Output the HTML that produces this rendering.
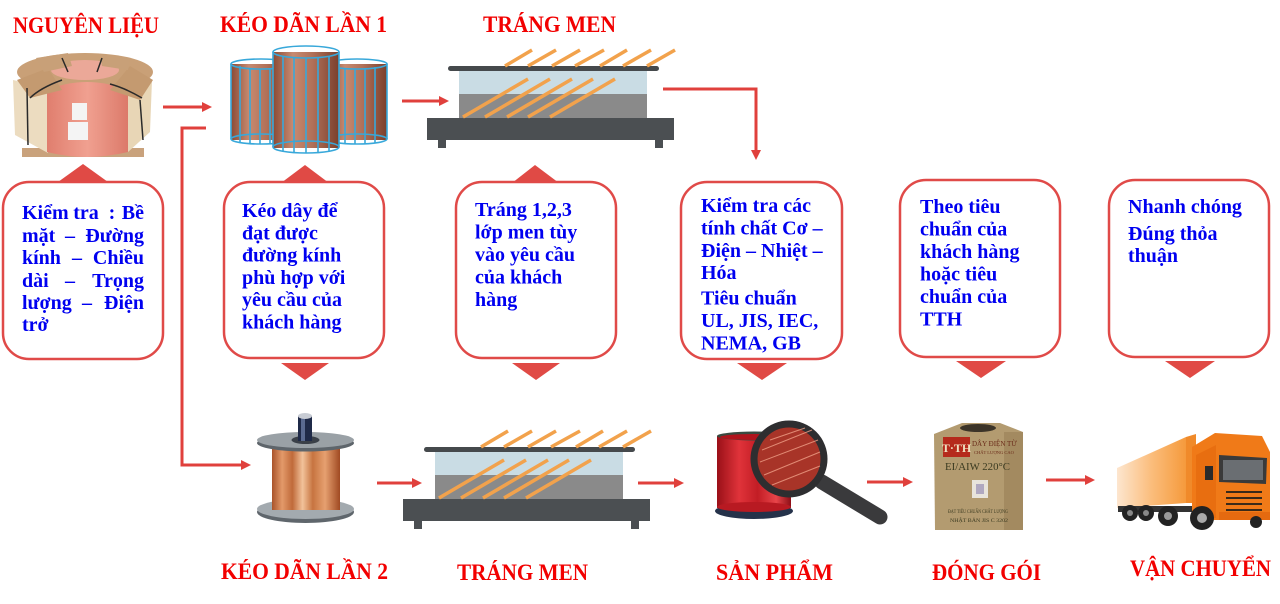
<!DOCTYPE html>
<html>
<head>
<meta charset="utf-8">
<style>
html,body{margin:0;padding:0;background:#fff;}
body{width:1280px;height:604px;overflow:hidden;}
svg{display:block;}
.t{font-family:"Liberation Serif","DejaVu Serif",serif;font-weight:bold;fill:#f20000;font-size:23px;}
.b{font-family:"Liberation Serif","DejaVu Serif",serif;font-weight:bold;fill:#0000f0;font-size:20px;}
</style>
</head>
<body>
<svg width="1280" height="604" viewBox="0 0 1280 604" xmlns="http://www.w3.org/2000/svg">
<defs>
  <linearGradient id="cu" x1="0" x2="1" y1="0" y2="0">
    <stop offset="0" stop-color="#a9532a"/>
    <stop offset="0.15" stop-color="#e39a6a"/>
    <stop offset="0.3" stop-color="#c06a3a"/>
    <stop offset="0.45" stop-color="#f2c29a"/>
    <stop offset="0.6" stop-color="#c77440"/>
    <stop offset="0.78" stop-color="#e6a070"/>
    <stop offset="1" stop-color="#a04a22"/>
  </linearGradient>
  <linearGradient id="cage" x1="0" x2="1" y1="0" y2="0">
    <stop offset="0" stop-color="#8a4a35"/>
    <stop offset="0.3" stop-color="#c78a70"/>
    <stop offset="0.6" stop-color="#b07058"/>
    <stop offset="1" stop-color="#7a3f2c"/>
  </linearGradient>
  <linearGradient id="red" x1="0" x2="1" y1="0" y2="0">
    <stop offset="0" stop-color="#9a1018"/>
    <stop offset="0.3" stop-color="#e0333a"/>
    <stop offset="0.55" stop-color="#c21d25"/>
    <stop offset="0.8" stop-color="#e8454a"/>
    <stop offset="1" stop-color="#8c0e16"/>
  </linearGradient>
  <linearGradient id="trailer" x1="0" x2="1" y1="0" y2="0">
    <stop offset="0" stop-color="#fde6cf"/>
    <stop offset="0.5" stop-color="#fbbd7c"/>
    <stop offset="1" stop-color="#f59a3c"/>
  </linearGradient>
  <linearGradient id="pink" x1="0" x2="1" y1="0" y2="0">
    <stop offset="0" stop-color="#e07e6e"/>
    <stop offset="0.5" stop-color="#f0a090"/>
    <stop offset="1" stop-color="#dc7a6a"/>
  </linearGradient>
</defs>

<!-- ===== TITLES ===== -->
<text class="t" x="13" y="33" textLength="146" lengthAdjust="spacingAndGlyphs">NGUYÊN LIỆU</text>
<text class="t" x="220" y="32" textLength="167" lengthAdjust="spacingAndGlyphs">KÉO DÃN LẦN 1</text>
<text class="t" x="483" y="32" textLength="133" lengthAdjust="spacingAndGlyphs">TRÁNG MEN</text>
<text class="t" x="221" y="579" textLength="167" lengthAdjust="spacingAndGlyphs">KÉO DÃN LẦN 2</text>
<text class="t" x="457" y="580" textLength="131" lengthAdjust="spacingAndGlyphs">TRÁNG MEN</text>
<text class="t" x="716" y="580" textLength="117" lengthAdjust="spacingAndGlyphs">SẢN PHẨM</text>
<text class="t" x="932" y="580" textLength="109" lengthAdjust="spacingAndGlyphs">ĐÓNG GÓI</text>
<text class="t" x="1130" y="576" textLength="141" lengthAdjust="spacingAndGlyphs">VẬN CHUYỂN</text>

<!-- ===== RAW COIL ===== -->
<g>
  <rect x="22" y="148" width="122" height="9" fill="#c9a27c"/>
  <polygon points="13,80 48,88 48,153 15,135" fill="#ecdcc0"/>
  <polygon points="125,88 152,80 150,132 128,152" fill="#e8d6b6"/>
  <ellipse cx="85" cy="72" rx="68" ry="19" fill="#c9a077"/>
  <ellipse cx="85" cy="70" rx="34" ry="10" fill="#eba898"/>
  <path d="M47,90 Q86,74 128,90 L128,152 Q86,162 47,152 Z" fill="url(#pink)"/>
  <polygon points="17,80 48,68 62,90 30,98" fill="#c49a70"/>
  <polygon points="110,90 130,66 153,80 140,100" fill="#c49a70"/>
  <polygon points="36,58 68,53 72,66 44,72" fill="#c8a078"/>
  <polygon points="100,54 130,58 128,70 102,66" fill="#c8a078"/>
  <path d="M27,88 L28,145" stroke="#2a2a2a" stroke-width="1.5" fill="none"/>
  <path d="M30,98 Q40,88 62,80" stroke="#2a2a2a" stroke-width="1.5" fill="none"/>
  <path d="M140,100 L143,140" stroke="#2a2a2a" stroke-width="1.5" fill="none"/>
  <path d="M110,84 Q125,88 142,98" stroke="#2a2a2a" stroke-width="1.5" fill="none"/>
  <path d="M62,58 L68,72 M102,58 L97,72" stroke="#2a2a2a" stroke-width="1.5" fill="none"/>
  <rect x="72" y="103" width="15" height="17" fill="#f4f4f4"/>
  <rect x="68" y="122" width="20" height="18" fill="#f4f4f4"/>
</g>

<!-- ===== CAGES ===== -->
<g stroke="#38a8da" stroke-width="1.6">
  <rect x="231" y="64" width="60" height="76" fill="url(#cage)" stroke="none"/>
  <ellipse cx="261" cy="64" rx="30" ry="5" fill="none"/>
  <ellipse cx="261" cy="139" rx="30" ry="5" fill="none"/>
  <path d="M231,64 V139 M240,66 V143 M250,68 V144 M260,69 V144 M270,68 V144 M280,67 V143 M291,64 V139" fill="none"/>
  <rect x="327" y="64" width="60" height="76" fill="url(#cage)" stroke="none"/>
  <ellipse cx="357" cy="64" rx="30" ry="5" fill="none"/>
  <ellipse cx="357" cy="139" rx="30" ry="5" fill="none"/>
  <path d="M327,64 V139 M345,68 V144 M355,69 V144 M365,69 V144 M375,67 V143 M387,64 V139" fill="none"/>
  <rect x="273" y="52" width="66" height="96" fill="url(#cage)" stroke="none"/>
  <ellipse cx="306" cy="52" rx="33" ry="6" fill="none"/>
  <ellipse cx="306" cy="147" rx="33" ry="6" fill="none"/>
  <path d="M273,52 V147 M283,56 V151 M294,57 V153 M306,58 V153 M318,57 V153 M329,56 V151 M339,52 V147" fill="none"/>
</g>

<!-- ===== MACHINE TOP ===== -->
<g>
  <rect x="459" y="71" width="188" height="23" fill="#c9dce4"/>
  <rect x="459" y="94" width="188" height="24" fill="#8a8a8a"/>
  <rect x="448" y="66" width="211" height="5" rx="2.5" fill="#45494c"/>
  <rect x="427" y="118" width="247" height="22" fill="#4b4f52"/>
  <rect x="438" y="140" width="8" height="8" fill="#4b4f52"/>
  <rect x="655" y="140" width="8" height="8" fill="#4b4f52"/>
  <g stroke="#f2a24c" stroke-width="3.5">
    <line x1="505" y1="66" x2="532" y2="50"/><line x1="528" y1="66" x2="556" y2="50"/>
    <line x1="552" y1="66" x2="580" y2="50"/><line x1="575" y1="66" x2="604" y2="50"/>
    <line x1="600" y1="66" x2="627" y2="50"/><line x1="623" y1="66" x2="651" y2="50"/>
    <line x1="647" y1="66" x2="675" y2="50"/>
    <line x1="463" y1="117" x2="528" y2="79"/><line x1="485" y1="117" x2="550" y2="79"/>
    <line x1="507" y1="117" x2="572" y2="79"/><line x1="528" y1="117" x2="593" y2="79"/>
    <line x1="550" y1="117" x2="615" y2="79"/>
  </g>
</g>

<!-- ===== MACHINE BOTTOM ===== -->
<g transform="translate(-24,381)">
  <rect x="459" y="71" width="188" height="23" fill="#c9dce4"/>
  <rect x="459" y="94" width="188" height="24" fill="#8a8a8a"/>
  <rect x="448" y="66" width="211" height="5" rx="2.5" fill="#45494c"/>
  <rect x="427" y="118" width="247" height="22" fill="#4b4f52"/>
  <rect x="438" y="140" width="8" height="8" fill="#4b4f52"/>
  <rect x="655" y="140" width="8" height="8" fill="#4b4f52"/>
  <g stroke="#f2a24c" stroke-width="3.5">
    <line x1="505" y1="66" x2="532" y2="50"/><line x1="528" y1="66" x2="556" y2="50"/>
    <line x1="552" y1="66" x2="580" y2="50"/><line x1="575" y1="66" x2="604" y2="50"/>
    <line x1="600" y1="66" x2="627" y2="50"/><line x1="623" y1="66" x2="651" y2="50"/>
    <line x1="647" y1="66" x2="675" y2="50"/>
    <line x1="463" y1="117" x2="528" y2="79"/><line x1="485" y1="117" x2="550" y2="79"/>
    <line x1="507" y1="117" x2="572" y2="79"/><line x1="528" y1="117" x2="593" y2="79"/>
    <line x1="550" y1="117" x2="615" y2="79"/>
  </g>
</g>

<!-- ===== CONNECTORS ===== -->
<g stroke="#e0403c" stroke-width="3" fill="none">
  <path d="M163,107 H204"/>
  <path d="M402,101 H441"/>
  <path d="M663,89 H756 V151"/>
  <path d="M206,128 H182 V465 H243"/>
  <path d="M377,483 H414"/>
  <path d="M638,483 H676"/>
  <path d="M867,482 H905"/>
  <path d="M1046,480 H1087"/>
</g>
<g fill="#e0403c">
  <polygon points="212,107 202,102 202,112"/>
  <polygon points="449,101 439,96 439,106"/>
  <polygon points="756,160 751,150 761,150"/>
  <polygon points="251,465 241,460 241,470"/>
  <polygon points="422,483 412,478 412,488"/>
  <polygon points="684,483 674,478 674,488"/>
  <polygon points="913,482 903,477 903,487"/>
  <polygon points="1095,480 1085,475 1085,485"/>
</g>

<!-- ===== BOXES ===== -->
<g fill="#e04a45">
  <polygon points="83,164 58,182 108,182"/>
  <polygon points="305,165 281,183 329,183"/>
  <polygon points="535,165 512,183 559,183"/>
  <polygon points="281,363 329,363 305,380"/>
  <polygon points="512,363 560,363 536,380"/>
  <polygon points="737,363 787,363 762,380"/>
  <polygon points="956,361 1006,361 981,378"/>
  <polygon points="1165,361 1215,361 1190,378"/>
</g>
<g fill="#fff" stroke="#e04a48" stroke-width="2.5">
  <rect x="3" y="182" width="160" height="177" rx="26"/>
  <rect x="224" y="182" width="160" height="176" rx="26"/>
  <rect x="456" y="182" width="160" height="176" rx="26"/>
  <rect x="681" y="182" width="161" height="177" rx="26"/>
  <rect x="900" y="180" width="160" height="177" rx="26"/>
  <rect x="1109" y="180" width="160" height="177" rx="26"/>
</g>

<!-- box 1 (justified) -->
<g class="b">
  <text x="22" y="219">Kiểm</text><text x="86" y="219" text-anchor="middle">tra</text><text x="112" y="219" text-anchor="middle">:</text><text x="144" y="219" text-anchor="end">Bề</text>
  <text x="22" y="242">mặt</text><text x="70" y="242" text-anchor="middle">–</text><text x="144" y="242" text-anchor="end">Đường</text>
  <text x="22" y="264">kính</text><text x="77" y="264" text-anchor="middle">–</text><text x="144" y="264" text-anchor="end">Chiều</text>
  <text x="22" y="287">dài</text><text x="70" y="287" text-anchor="middle">–</text><text x="144" y="287" text-anchor="end">Trọng</text>
  <text x="22" y="309">lượng</text><text x="87" y="309" text-anchor="middle">–</text><text x="144" y="309" text-anchor="end">Điện</text>
  <text x="22" y="331">trở</text>
</g>
<!-- box 2 -->
<g class="b">
  <text x="242" y="217">Kéo dây để</text>
  <text x="242" y="239.3">đạt được</text>
  <text x="242" y="261.6">đường kính</text>
  <text x="242" y="283.9">phù hợp với</text>
  <text x="242" y="306.2">yêu cầu của</text>
  <text x="242" y="328.5">khách hàng</text>
</g>
<!-- box 3 -->
<g class="b">
  <text x="475" y="216">Tráng 1,2,3</text>
  <text x="475" y="238.5">lớp men tùy</text>
  <text x="475" y="261">vào yêu cầu</text>
  <text x="475" y="283.5">của khách</text>
  <text x="475" y="306">hàng</text>
</g>
<!-- box 4 -->
<g class="b">
  <text x="701" y="212">Kiểm tra các</text>
  <text x="701" y="234.5">tính chất Cơ –</text>
  <text x="701" y="257">Điện – Nhiệt –</text>
  <text x="701" y="279">Hóa</text>
  <text x="701" y="304.5">Tiêu chuẩn</text>
  <text x="701" y="327">UL, JIS, IEC,</text>
  <text x="701" y="349.5">NEMA, GB</text>
</g>
<!-- box 5 -->
<g class="b">
  <text x="920" y="213">Theo tiêu</text>
  <text x="920" y="235.5">chuẩn của</text>
  <text x="920" y="258">khách hàng</text>
  <text x="920" y="280.5">hoặc tiêu</text>
  <text x="920" y="303">chuẩn của</text>
  <text x="920" y="325.5">TTH</text>
</g>
<!-- box 6 -->
<g class="b">
  <text x="1128" y="213">Nhanh chóng</text>
  <text x="1128" y="240">Đúng thỏa</text>
  <text x="1128" y="262">thuận</text>
</g>

<!-- ===== SPOOL (kéo dãn lần 2) ===== -->
<g>
  <ellipse cx="305.5" cy="512" rx="48.5" ry="11" fill="#5f666c"/>
  <ellipse cx="305.5" cy="509" rx="48.5" ry="10" fill="#a3aaaf"/>
  <rect x="272" y="441" width="68" height="69" fill="url(#cu)"/>
  <ellipse cx="305.5" cy="443" rx="48.5" ry="8.5" fill="#5e656b"/>
  <ellipse cx="305.5" cy="440" rx="48.5" ry="8" fill="#9aa1a6"/>
  <ellipse cx="305.5" cy="440" rx="14" ry="4" fill="#3a4048"/>
  <rect x="298" y="416" width="14" height="25" fill="#1f2a48"/>
  <rect x="301" y="416" width="4" height="25" fill="#5a6a90"/>
  <ellipse cx="305" cy="416" rx="7" ry="3" fill="#c8ccd4"/>
</g>

<!-- ===== RED SPOOL + MAGNIFIER ===== -->
<g>
  <ellipse cx="754" cy="511" rx="39" ry="8" fill="#25324a"/>
  <rect x="717" y="436" width="74" height="72" fill="url(#red)"/>
  <ellipse cx="754" cy="436" rx="37" ry="4.5" fill="#3a4a40"/>
  <ellipse cx="754" cy="437" rx="34" ry="3" fill="#b0141c"/>
  <ellipse cx="754" cy="507" rx="37" ry="5" fill="#b81a22"/>
  <line x1="822" y1="482" x2="880" y2="517" stroke="#3a3a3c" stroke-width="15" stroke-linecap="round"/>
  <circle cx="789" cy="459" r="35" fill="#a83428" stroke="#2e2e30" stroke-width="7"/>
  <g stroke="#f0a088" stroke-width="1" opacity="0.8">
    <line x1="762" y1="450" x2="812" y2="430"/><line x1="760" y1="462" x2="818" y2="440"/>
    <line x1="764" y1="475" x2="820" y2="452"/><line x1="772" y1="485" x2="820" y2="466"/>
    <line x1="770" y1="440" x2="805" y2="428"/>
  </g>
</g>

<!-- ===== CARTON ===== -->
<g>
  <polygon points="934,434 962,423 1000,423 1023,432 1023,530 935,530" fill="#b39b70"/>
  <polygon points="1004,432 1023,432 1023,530 1004,530" fill="#a38a60"/>
  <ellipse cx="978" cy="428" rx="18" ry="4" fill="#3c3428"/>
  <rect x="943" y="437" width="27" height="20" fill="#b52a1c"/>
  <text x="956.5" y="452" text-anchor="middle" font-family="Liberation Serif, serif" font-weight="bold" font-size="12" fill="#f0e0c0">T·TH</text>
  <text x="972" y="446" font-family="Liberation Serif, serif" font-size="7" fill="#6a2a18">DÂY ĐIỆN TỪ</text>
  <text x="974" y="454" font-family="Liberation Serif, serif" font-size="4.5" fill="#6a2a18">CHẤT LƯỢNG CAO</text>
  <text x="945" y="470" textLength="65" lengthAdjust="spacingAndGlyphs" font-family="Liberation Serif, serif" font-size="11" fill="#3a3a20">EI/AIW 220°C</text>
  <rect x="972" y="480" width="16" height="18" fill="#e8e4dc"/>
  <rect x="976" y="484" width="8" height="10" fill="#b0a8c0"/>
  <text x="948" y="513" textLength="60" lengthAdjust="spacingAndGlyphs" font-family="Liberation Serif, serif" font-size="5" fill="#3a3a20">ĐẠT TIÊU CHUẨN CHẤT LƯỢNG</text>
  <text x="950" y="522" textLength="58" lengthAdjust="spacingAndGlyphs" font-family="Liberation Serif, serif" font-size="5" fill="#3a3a20">NHẬT BẢN JIS C 3202</text>
</g>

<!-- ===== TRUCK ===== -->
<g>
  <polygon points="1117,468 1186,437 1186,503 1117,508" fill="url(#trailer)"/>
  <polygon points="1186,437 1196,434 1196,503 1186,503" fill="#f08a2a"/>
  <rect x="1118" y="506" width="80" height="6" fill="#333"/>
  <circle cx="1130" cy="513" r="8" fill="#222"/>
  <circle cx="1146" cy="513" r="8" fill="#222"/>
  <circle cx="1130" cy="513" r="3" fill="#888"/>
  <circle cx="1146" cy="513" r="3" fill="#888"/>
  <polygon points="1192,447 1215,433 1262,436 1270,452 1270,520 1192,520" fill="#f07a18"/>
  <polygon points="1196,455 1216,445 1216,518 1196,518" fill="#e86e10"/>
  <polygon points="1219,455 1267,458 1266,484 1219,482" fill="#3a3a3a"/>
  <rect x="1223" y="460" width="40" height="20" fill="#6a6e72"/>
  <g stroke="#3a2a1a" stroke-width="2">
    <line x1="1226" y1="492" x2="1262" y2="492"/><line x1="1226" y1="498" x2="1262" y2="498"/>
    <line x1="1226" y1="504" x2="1262" y2="504"/><line x1="1226" y1="510" x2="1262" y2="510"/>
  </g>
  <rect x="1219" y="512" width="51" height="8" fill="#e56a10"/>
  <rect x="1205" y="466" width="8" height="14" fill="#2a2a2a"/>
  <circle cx="1168" cy="516" r="10" fill="#222"/>
  <circle cx="1168" cy="516" r="4" fill="#999"/>
  <circle cx="1202" cy="518" r="12" fill="#222"/>
  <circle cx="1202" cy="518" r="5" fill="#aaa"/>
  <circle cx="1256" cy="522" r="6" fill="#222"/>
</g>
</svg>
</body>
</html>
